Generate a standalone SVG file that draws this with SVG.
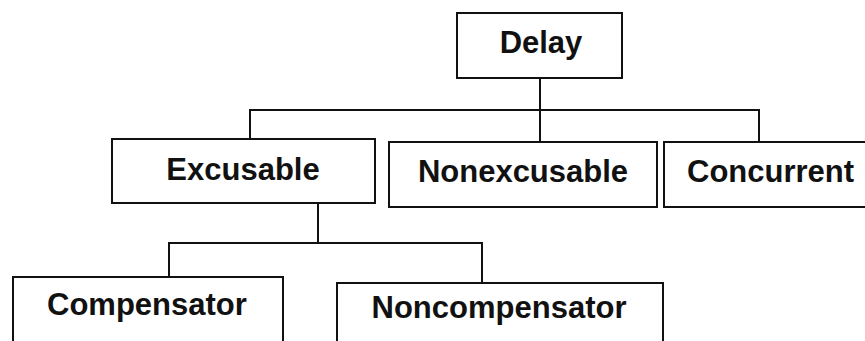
<svg xmlns="http://www.w3.org/2000/svg" width="865" height="341" viewBox="0 0 865 341">
<style>
.box{fill:#fff;stroke:#111;stroke-width:2}
.lbl{font-family:"Liberation Sans",Arial,sans-serif;font-weight:bold;font-size:31px;fill:#111}
.con{fill:none;stroke:#111;stroke-width:2}
</style>
<rect width="865" height="341" fill="#fff"/>
<g id="connectors">
<path class="con" d="M540 78 V142"/>
<path class="con" d="M250 139 V110 H759 V142"/>
<path class="con" d="M318 203 V243"/>
<path class="con" d="M169 277 V243 H482 V283"/>
</g>
<g id="delay"><rect class="box" x="457" y="13" width="165" height="65"/><text class="lbl" x="541" y="53" text-anchor="middle">Delay</text></g>
<g id="excusable"><rect class="box" x="112" y="139" width="263" height="64"/><text class="lbl" x="243" y="180" text-anchor="middle">Excusable</text></g>
<g id="nonexcusable"><rect class="box" x="389" y="142" width="268" height="65"/><text class="lbl" x="523" y="182" text-anchor="middle">Nonexcusable</text></g>
<g id="concurrent"><rect class="box" x="664" y="142" width="210" height="65"/><text class="lbl" x="687" y="182">Concurrent</text></g>
<g id="compensator"><rect class="box" x="13" y="277" width="270" height="80"/><text class="lbl" x="47" y="315">Compensator</text></g>
<g id="noncompensator"><rect class="box" x="337" y="283" width="326" height="80"/><text class="lbl" x="499" y="318" text-anchor="middle">Noncompensator</text></g>
</svg>
